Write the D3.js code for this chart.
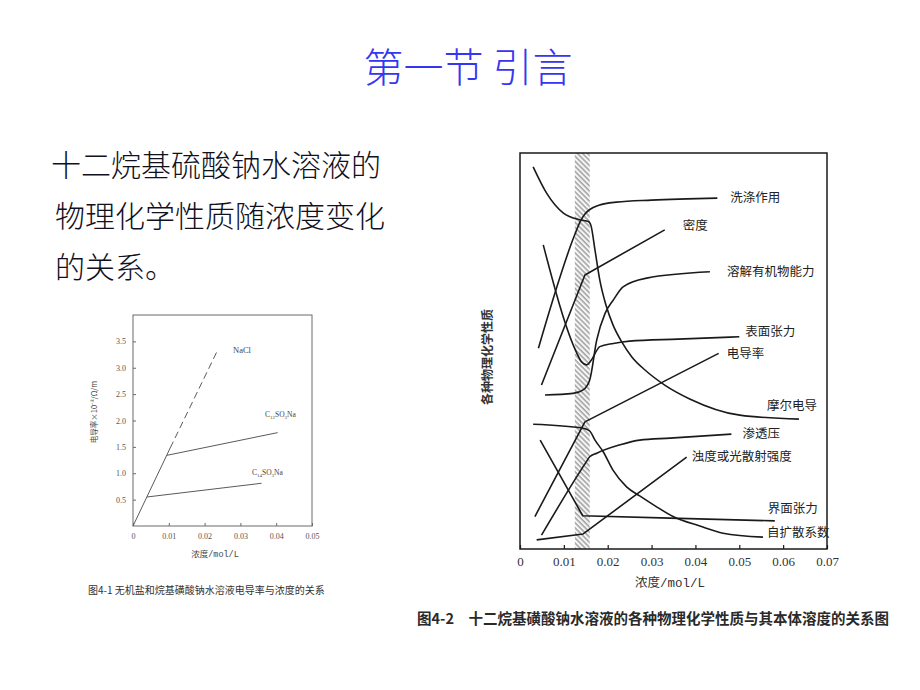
<!DOCTYPE html>
<html><head><meta charset="utf-8">
<script src="https://cdn.jsdelivr.net/npm/d3@7"></script>
<style>body{margin:0;background:#fff} svg{display:block}</style>
</head><body>
<svg id="c" width="920" height="690"></svg>
<script>
// ---------- text ----------
const titleText = "第一节 引言";
const bodyLines = ["十二烷基硫酸钠水溶液的", "物理化学性质随浓度变化", "的关系。"];

// ---------- Fig 4-1 data ----------
const fig1XTicks = [0, 0.01, 0.02, 0.03, 0.04, 0.05];
const fig1YTicks = [0.5, 1.0, 1.5, 2.0, 2.5, 3.0, 3.5];
const naclSolid = [[0, 0], [0.0104, 1.48]];
const naclDashed = [[0.0104, 1.48], [0.0234, 3.30]];
const c12Line = [[0.0095, 1.34], [0.0404, 1.77]];
const c14Line = [[0.0039, 0.55], [0.0359, 0.81]];
const fig1Caption = "图4-1 无机盐和烷基磺酸钠水溶液电导率与浓度的关系";

// ---------- Fig 4-2 data ----------
const fig2XTicks = [0, 0.01, 0.02, 0.03, 0.04, 0.05, 0.06, 0.07];
const cmcBand = [0.0125, 0.0159];
const seriesNames = ["洗涤作用", "密度", "溶解有机物能力", "表面张力", "电导率",
  "摩尔电导", "渗透压", "浊度或光散射强度", "界面张力", "自扩散系数"];
const detergency = [[0.0042, 50.7], [0.0125, 79.4], [0.0137, 82.6], [0.0148, 84.6], [0.016, 85.8], [0.018, 86.8], [0.022, 87.6], [0.03, 88.1], [0.045, 88.6]];
const density = [[0.0049, 41.4], [0.0148, 69.2], [0.033, 80.6]];
const solubilization = [[0.0057, 38.9], [0.0121, 39.3], [0.0144, 40.2], [0.0159, 42.7], [0.0175, 52.8], [0.0194, 59.5], [0.0213, 62.9], [0.0235, 66.2], [0.0289, 68.4], [0.0433, 70.0]];
const surfaceTension = [[0.0053, 76.8], [0.0129, 49.6], [0.0140, 47.3], [0.0152, 46.5], [0.0162, 47.6], [0.0182, 51.1], [0.0213, 51.9], [0.025, 52.5], [0.036, 53.0], [0.050, 53.6]];
const conductivity = [[0.0034, 8.2], [0.0148, 32.1], [0.0453, 49.4]];
const molarConductivity = [[0.0030, 96.5], [0.0061, 89.8], [0.0099, 84.8], [0.0137, 83.1], [0.0156, 82.7], [0.0162, 81.6], [0.0171, 75.5], [0.0182, 67.9], [0.0196, 61.6], [0.0212, 56.6], [0.0232, 52.3], [0.0255, 48.5], [0.0285, 45.2], [0.0330, 41.4], [0.0387, 37.9], [0.0501, 33.8], [0.0636, 32.8]];
const osmoticPressure = [[0.0049, 3.5], [0.0150, 21.8], [0.0159, 23.3], [0.0175, 24.2], [0.0228, 26.3], [0.0273, 27.5], [0.0342, 28.0], [0.0482, 29.0]];
const turbidity = [[0.0038, 2.3], [0.0144, 3.8], [0.038, 23.2]];
const interfacialTension = [[0.0046, 27.5], [0.0143, 8.4], [0.0342, 7.8], [0.0581, 7.1]];
const selfDiffusion = [[0.0030, 31.5], [0.0144, 30.5], [0.0159, 29.8], [0.0171, 27.5], [0.0190, 24.5], [0.0212, 19.9], [0.0243, 15.7], [0.0273, 13.4], [0.0308, 10.9], [0.0349, 8.2], [0.0410, 5.8], [0.0463, 4.0], [0.0554, 3.0]];
const fig2Caption = "图4-2　十二烷基磺酸钠水溶液的各种物理化学性质与其本体溶度的关系图";

// ---------- layout / style ----------
const seriesData = [detergency, density, solubilization, surfaceTension, conductivity,
  molarConductivity, osmoticPressure, turbidity, interfacialTension, selfDiffusion];
const smooth = [true, false, true, true, false, true, true, false, false, true];
const labelOffset = [[13, -1], [18, -5], [17, -1], [6, -5], [8, 0], [-32, -14], [11, -1], [5, -1], [-7, -13], [4, -5]];

const CJK = "'Noto Sans CJK SC', 'Noto Sans', sans-serif";
const SERIF = "'Liberation Serif', 'DejaVu Serif', serif";
const MONO = "'Liberation Mono', 'DejaVu Sans Mono', monospace";

const svg = d3.select("#c");

// title
svg.append("text").attr("x", 468).attr("y", 82).attr("text-anchor", "middle")
  .attr("font-family", CJK).attr("font-size", 40).attr("font-weight", 300).attr("fill", "#3636f2").text(titleText);
bodyLines.forEach((t, i) => {
  svg.append("text").attr("x", i === 0 ? 51 : 55).attr("y", 176 + i * 51)
    .attr("font-family", CJK).attr("font-size", 30).attr("font-weight", 300).attr("fill", "#10101e").text(t);
});

// ================= Fig 4-1 =================
const x1 = d3.scaleLinear().domain([0, 0.05]).range([133, 312]);
const y1 = d3.scaleLinear().domain([0, 4]).range([526, 315]);
const g1 = svg.append("g");
g1.append("rect").attr("x", x1(0)).attr("y", y1(4)).attr("width", x1(0.05) - x1(0)).attr("height", y1(0) - y1(4))
  .attr("fill", "none").attr("stroke", "#6a6a6a").attr("stroke-width", 1);
const ax1 = g1.append("g").attr("transform", `translate(0,${y1(0)})`)
  .call(d3.axisBottom(x1).tickValues(fig1XTicks).tickSize(-3).tickPadding(7)
    .tickFormat(d => d === 0 ? "0" : d3.format(".2f")(d)));
const ay1 = g1.append("g").attr("transform", `translate(${x1(0)},0)`)
  .call(d3.axisLeft(y1).tickValues(fig1YTicks).tickSize(-3).tickPadding(7).tickFormat(d3.format(".1f")));
[ax1, ay1].forEach(a => {
  a.select(".domain").remove();
  a.selectAll("line").attr("stroke", "#6a6a6a");
  a.selectAll("text").attr("font-family", SERIF).attr("font-size", 8).attr("fill", "#555");
});
const line1 = d3.line().x(d => x1(d[0])).y(d => y1(d[1]));
[naclSolid, c12Line, c14Line].forEach(s => g1.append("path").attr("d", line1(s))
  .attr("fill", "none").attr("stroke", "#5a5a5a").attr("stroke-width", 1));
g1.append("path").attr("d", line1(naclDashed)).attr("fill", "none").attr("stroke", "#5a5a5a")
  .attr("stroke-width", 1).attr("stroke-dasharray", "7,4");
g1.append("text").attr("x", 233).attr("y", 353).attr("font-family", SERIF).attr("font-size", 8.5)
  .attr("fill", "#444").text("NaCl");
function chemLabel(x, y, n) {
  const t = g1.append("text").attr("x", x).attr("y", y).attr("font-family", SERIF).attr("font-size", 7.5).attr("fill", "#444");
  t.append("tspan").text("C");
  t.append("tspan").attr("font-size", 5).attr("dy", 1.5).text(n);
  t.append("tspan").attr("dy", -1.5).text("SO");
  t.append("tspan").attr("font-size", 5).attr("dy", 1.5).text("3");
  t.append("tspan").attr("dy", -1.5).text("Na");
}
chemLabel(265, 417, "12");
chemLabel(252, 475, "14");
g1.append("text").attr("transform", "translate(97,412) rotate(-90)").attr("text-anchor", "middle")
  .attr("font-family", CJK).attr("font-size", 7.5).attr("fill", "#444").text("电导率×10⁻²/Ω/m");
const xl1 = g1.append("text").attr("x", 215).attr("y", 557).attr("text-anchor", "middle")
  .attr("font-family", CJK).attr("font-size", 8.5).attr("fill", "#444");
xl1.append("tspan").text("浓度");
xl1.append("tspan").attr("font-family", MONO).text("/mol/L");
g1.append("text").attr("x", 88).attr("y", 594).attr("font-family", CJK).attr("font-size", 10)
  .attr("fill", "#333").text(fig1Caption);

// ================= Fig 4-2 =================
const x2 = d3.scaleLinear().domain([0, 0.07]).range([520, 827]);
const y2 = d3.scaleLinear().domain([0, 100]).range([549, 153]);
const g2 = svg.append("g");
const defs = svg.append("defs");
const pat = defs.append("pattern").attr("id", "hatch").attr("patternUnits", "userSpaceOnUse")
  .attr("width", 3.6).attr("height", 3.6).attr("patternTransform", "rotate(-45)");
pat.append("rect").attr("width", 3.6).attr("height", 3.6).attr("fill", "#f6f6f6");
pat.append("line").attr("x1", 1).attr("x2", 1).attr("y1", 0).attr("y2", 3.6)
  .attr("stroke", "#9a9a9a").attr("stroke-width", 1.4);
g2.append("rect").attr("x", x2(cmcBand[0])).attr("y", y2(100))
  .attr("width", x2(cmcBand[1]) - x2(cmcBand[0])).attr("height", y2(0) - y2(100))
  .attr("fill", "url(#hatch)");
g2.append("rect").attr("x", x2(0)).attr("y", y2(100)).attr("width", x2(0.07) - x2(0)).attr("height", y2(0) - y2(100))
  .attr("fill", "none").attr("stroke", "#1a1a1a").attr("stroke-width", 1.5);
const ax2 = g2.append("g").attr("transform", `translate(0,${y2(0)})`)
  .call(d3.axisBottom(x2).tickValues(fig2XTicks).tickSize(-4).tickPadding(8)
    .tickFormat(d => d === 0 ? "0" : d3.format(".2f")(d)));
ax2.select(".domain").remove();
ax2.selectAll("line").attr("stroke", "#1a1a1a").attr("stroke-width", 1.2);
ax2.selectAll("text").attr("font-family", SERIF).attr("font-size", 13).attr("fill", "#333");

const lineS = d3.line().x(d => x2(d[0])).y(d => y2(d[1])).curve(d3.curveMonotoneX);
const lineL = d3.line().x(d => x2(d[0])).y(d => y2(d[1]));
seriesData.forEach((s, i) => {
  g2.append("path").attr("d", (smooth[i] ? lineS : lineL)(s))
    .attr("fill", "none").attr("stroke", "#1a1a1a").attr("stroke-width", 1.6)
    .attr("stroke-linejoin", "round");
  const last = s[s.length - 1];
  g2.append("text").attr("x", x2(last[0]) + labelOffset[i][0]).attr("y", y2(last[1]) + labelOffset[i][1])
    .attr("dy", "0.38em").attr("font-family", CJK).attr("font-size", 12.5).attr("fill", "#222")
    .text(seriesNames[i]);
});
g2.append("text").attr("transform", "translate(492,357) rotate(-90)").attr("text-anchor", "middle")
  .attr("font-family", CJK).attr("font-size", 12).attr("font-weight", "bold").attr("fill", "#333")
  .text("各种物理化学性质");
const xl2 = g2.append("text").attr("x", 670).attr("y", 587).attr("text-anchor", "middle")
  .attr("font-family", CJK).attr("font-size", 12.5).attr("fill", "#333");
xl2.append("tspan").text("浓度");
xl2.append("tspan").attr("font-family", MONO).text("/mol/L");
g2.append("text").attr("x", 417).attr("y", 623.5).attr("font-family", CJK).attr("font-size", 14.5)
  .attr("font-weight", "bold").attr("fill", "#2a2a2a").text(fig2Caption);
</script>
</body></html>
